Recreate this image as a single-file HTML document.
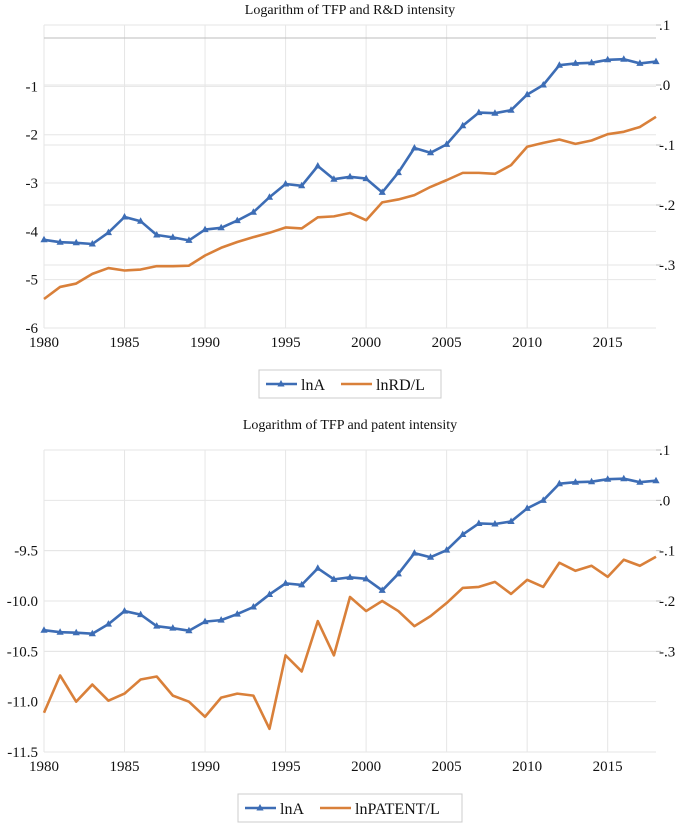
<!DOCTYPE html>
<html><head><meta charset="utf-8"><style>
html,body{margin:0;padding:0;background:#fff;}
svg{display:block;font-family:"Liberation Serif",serif;}
</style></head><body>
<svg id="s" width="685" height="823"></svg>
<script>
const years=[];for(let y=1980;y<=2018;y++)years.push(y);
const lnA=[-.258,-.262,-.263,-.265,-.246,-.220,-.227,-.250,-.254,-.259,-.241,-.238,-.226,-.212,-.187,-.165,-.168,-.135,-.157,-.153,-.156,-.179,-.146,-.105,-.113,-.099,-.068,-.046,-.047,-.042,-.016,.000,.033,.036,.037,.042,.043,.036,.039];
const lnRD=[-5.40,-5.15,-5.08,-4.88,-4.76,-4.81,-4.79,-4.72,-4.72,-4.71,-4.50,-4.34,-4.22,-4.12,-4.03,-3.92,-3.94,-3.71,-3.69,-3.62,-3.77,-3.40,-3.34,-3.25,-3.08,-2.94,-2.79,-2.79,-2.81,-2.63,-2.25,-2.17,-2.10,-2.19,-2.12,-1.99,-1.94,-1.84,-1.63];
const lnPAT=[-11.11,-10.74,-11.00,-10.83,-10.99,-10.92,-10.78,-10.75,-10.94,-11.00,-11.15,-10.96,-10.92,-10.94,-11.27,-10.54,-10.70,-10.20,-10.54,-9.96,-10.10,-10.00,-10.10,-10.25,-10.15,-10.02,-9.87,-9.86,-9.81,-9.93,-9.79,-9.86,-9.62,-9.70,-9.65,-9.76,-9.59,-9.65,-9.56];
const xTicks=[1980,1985,1990,1995,2000,2005,2010,2015];
const topLeftTicks=[-1,-2,-3,-4,-5,-6];
const botLeftTicks=[-9.5,-10.0,-10.5,-11.0,-11.5];
const rightTicks=[.1,0,-.1,-.2,-.3];
const NS='http://www.w3.org/2000/svg';
const svg=document.getElementById('s');
function mk(tag,at,parent){const e=document.createElementNS(NS,tag);for(const k in at)e.setAttribute(k,at[k]);(parent||svg).appendChild(e);return e;}
const BLUE='#3d6db5',ORANGE='#d9803a';
function rfmt(v){if(Math.abs(v)<1e-9)return '.0';return (v<0?'-':'')+'.'+Math.round(Math.abs(v)*10);}
function chart(o){
  const g=mk('g',{});
  const L=44,R=656;
  const x=yr=>L+(yr-1980)*(R-L)/38;
  const yl=v=>o.bot-(v-o.lmin)*(o.bot-o.top)/(o.lmax-o.lmin);
  const yr=v=>o.bot-(v-o.rmin)*(o.bot-o.top)/(o.rmax-o.rmin);
  const t=mk('text',{x:350,y:o.titleY,'text-anchor':'middle','font-size':14,fill:'#111'},g);t.textContent=o.title;
  
  xTicks.forEach(v=>{const l=mk('line',{x1:x(v),x2:x(v),y1:o.top,y2:o.bot,stroke:'#e6e6e6','stroke-width':1},g);
    
    const tx=mk('text',{x:x(v),y:o.bot+19,'text-anchor':'middle','font-size':15,fill:'#111'},g);tx.textContent=v;
    });
  o.lticks.forEach(v=>{const l=mk('line',{x1:L,x2:R,y1:yl(v),y2:yl(v),stroke:'#e6e6e6'},g);
    
    const tx=mk('text',{x:38,y:yl(v)+5,'text-anchor':'end','font-size':15,fill:'#111'},g);tx.textContent=o.lfmt(v);
    });
  rightTicks.forEach(v=>{const l=mk('line',{x1:L,x2:R,y1:yr(v),y2:yr(v),stroke:'#e6e6e6'},g);
    
    const tk=mk('line',{x1:R,x2:R+5,y1:yr(v),y2:yr(v),stroke:'#bbb'},g);
    
    const tx=mk('text',{x:R+3,y:yr(v)+5,'font-size':15,fill:'#111'},g);tx.textContent=rfmt(v);
    });
  if(o.zeroLine){const l=mk('line',{x1:L,x2:R,y1:yl(0),y2:yl(0),stroke:'#bdbdbd'},g);
    }
  const po=mk('polyline',{points:o.orange.map((v,i)=>x(years[i])+','+yl(v)).join(' '),fill:'none',stroke:ORANGE,'stroke-width':2.6,'stroke-linejoin':'round'},g);
  
  const pb=mk('polyline',{points:lnA.map((v,i)=>x(years[i])+','+yr(v)).join(' '),fill:'none',stroke:BLUE,'stroke-width':2.6,'stroke-linejoin':'round'},g);
  
  lnA.forEach((v,i)=>{const cx=x(years[i]),cy=yr(v);
    const m=mk('polygon',{points:`${cx},${cy-4} ${cx-3.6},${cy+2.5} ${cx+3.6},${cy+2.5}`,fill:BLUE},g);
    });
  const lg=mk('g',{},g);
  mk('rect',{x:o.lx,y:o.ly,width:o.lw,height:28,fill:'#fff',stroke:'#ccc'},lg);
  const cy=o.ly+14;
  mk('line',{x1:o.lx+7,x2:o.lx+38,y1:cy,y2:cy,stroke:BLUE,'stroke-width':2.6},lg);
  mk('polygon',{points:`${o.lx+22},${cy-4} ${o.lx+18.4},${cy+2.5} ${o.lx+25.6},${cy+2.5}`,fill:BLUE},lg);
  const t1=mk('text',{x:o.lx+42,y:cy+6,'font-size':16,fill:'#111'},lg);t1.textContent='lnA';
  mk('line',{x1:o.lx+82,x2:o.lx+113,y1:cy,y2:cy,stroke:ORANGE,'stroke-width':2.6},lg);
  const t2=mk('text',{x:o.lx+117,y:cy+6,'font-size':16,fill:'#111'},lg);t2.textContent=o.olabel;
}
chart({name:'rd-chart',title:'Logarithm of TFP and R&D intensity',titleY:14,top:25,bot:328,lmin:-6,lmax:0.27,rmin:-0.405,rmax:0.1,
  lticks:topLeftTicks,lfmt:v=>String(v),zeroLine:true,orange:lnRD,oname:'lnRD',olabel:'lnRD/L',lx:259,ly:370,lw:182});
chart({name:'patent-chart',title:'Logarithm of TFP and patent intensity',titleY:429,top:450,bot:752,lmin:-11.5,lmax:-8.5,rmin:-0.5,rmax:0.1,
  lticks:botLeftTicks,lfmt:v=>v.toFixed(1),zeroLine:false,orange:lnPAT,oname:'lnPATENT',olabel:'lnPATENT/L',lx:238,ly:794,lw:224});
</script>
</body></html>
